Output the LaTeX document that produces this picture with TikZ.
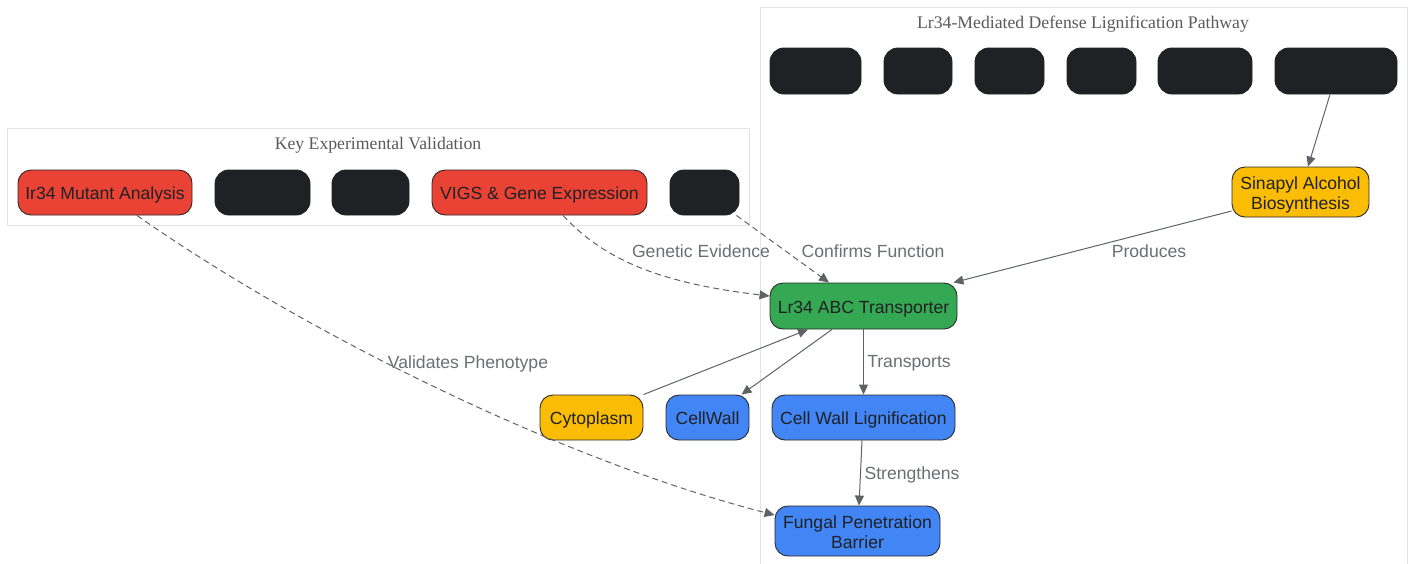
\documentclass[tikz,border=0pt]{standalone}
\usepackage{fontspec}
\setmainfont{Liberation Sans}
\newfontfamily\titlefont{Liberation Serif}
\usetikzlibrary{arrows.meta,calc}
\definecolor{cred}{HTML}{EA4335}
\definecolor{cgreen}{HTML}{34A853}
\definecolor{cblue}{HTML}{4285F4}
\definecolor{cyellow}{HTML}{FBBC04}
\definecolor{cblack}{HTML}{202124}
\definecolor{cborder}{HTML}{2A2A2A}
\definecolor{cedge}{HTML}{5F6368}
\definecolor{clabel}{HTML}{6B6E73}
\definecolor{ctitle}{HTML}{5A5A5A}
\definecolor{cclus}{HTML}{E3E3E3}
\tikzset{
  basebox/.style={draw=cborder, line width=0.9pt, rounded corners=13pt, inner sep=0pt,
    align=center, text=cblack, font=\fontsize{17.6}{20}\selectfont},
  box/.style={basebox, text height=16pt, text depth=2pt},
  mbox/.style={basebox, text height=36pt, text depth=2pt},
  blk/.style={basebox, fill=cblack, draw=cblack, rounded corners=14pt, minimum height=46pt},
  conn/.style={draw=cedge, line width=1pt, -{Triangle[length=10pt,width=9pt]}},
  dconn/.style={conn, dash pattern=on 6pt off 4pt},
  elabel/.style={text=clabel, font=\fontsize{17.6}{20}\selectfont, inner sep=0pt},
  cluster/.style={draw=cclus, fill=white, line width=0.8pt},
  ctitle/.style={text=ctitle, font=\titlefont\fontsize{17.7}{21}\selectfont, inner sep=0pt}
}
\begin{document}
\begin{tikzpicture}[x=1pt,y=-1pt]
\useasboundingbox (0,0) rectangle (1410,563);
% clusters
\draw[cluster] (760,7) rectangle (1407,570);
\draw[cluster] (7,128) rectangle (749,225);
\node[ctitle] (t1) at (1083,24) {Lr34-Mediated Defense Lignification Pathway};
\node[ctitle] (t2) at (378,145) {Key Experimental Validation};
% top row
\node[blk, minimum width=91pt] (p1) at (815.5,71) {};
\node[blk, minimum width=68pt] (p2) at (918,71) {};
\node[blk, minimum width=69pt] (p3) at (1009.5,71) {};
\node[blk, minimum width=69pt] (p4) at (1101.5,71) {};
\node[blk, minimum width=94pt] (p5) at (1205,71) {};
\node[blk, minimum width=122pt] (p6) at (1336,71) {};
% left row
\node[box, fill=cred, minimum width=174pt, minimum height=45pt] (mut) at (105,192.5) {Ir34 Mutant Analysis};
\node[blk, minimum width=95pt, minimum height=45pt] (k1) at (262.5,192.5) {};
\node[blk, minimum width=77pt, minimum height=45pt] (k2) at (370.5,192.5) {};
\node[box, fill=cred, minimum width=215pt, minimum height=45pt] (vigs) at (539.5,192.5) {VIGS \& Gene Expression};
\node[blk, minimum width=69pt, minimum height=45pt] (k3) at (704.5,192.5) {};
% others
\node[mbox, fill=cyellow, minimum width=137pt, minimum height=50pt] (sin) at (1300.5,192) {Sinapyl Alcohol\\Biosynthesis};
\node[box, fill=cgreen, minimum width=187pt, minimum height=46pt] (abc) at (863.5,306) {Lr34 ABC Transporter};
\node[box, fill=cyellow, minimum width=103pt, minimum height=45pt] (cyt) at (591.5,417.5) {Cytoplasm};
\node[box, fill=cblue, minimum width=83pt, minimum height=45pt] (cw) at (707.5,417.5) {CellWall};
\node[box, fill=cblue, minimum width=183pt, minimum height=45pt] (lig) at (863.5,417.5) {Cell Wall Lignification};
\node[mbox, fill=cblue, minimum width=165pt, minimum height=50pt] (fun) at (857.5,531) {Fungal Penetration\\Barrier};
% edges
\draw[conn] ([xshift=-6pt]p6.south) -- ([xshift=7.5pt]sin.north);
\draw[conn] ([yshift=-19pt]sin.west) -- ([xshift=-4pt]abc.north east);
\draw[dconn] ([xshift=32pt]mut.south) .. controls (300,330) and (560,460) .. ([yshift=16pt]fun.west);
\draw[dconn] ([xshift=23.5pt]vigs.south) .. controls (600,255) and (650,282) .. ([yshift=10pt]abc.west);
\draw[dconn] ([xshift=-3pt]k3.south east) -- ([xshift=-34.5pt]abc.north);
\draw[conn] (cyt.north east) -- ([xshift=-55.5pt]abc.south);
\draw[conn] ([xshift=-31.5pt]abc.south) -- ([xshift=-8pt]cw.north east);
\draw[conn] (abc.south) -- (lig.north);
\draw[conn] ([xshift=-1.5pt]lig.south) -- ([xshift=1.5pt]fun.north);
% labels
\node[elabel] (l1) at (1149,251.5) {Produces};
\node[elabel] (l2) at (468,363.5) {Validates Phenotype};
\node[elabel] (l3) at (701,251.5) {Genetic Evidence};
\node[elabel] (l4) at (873,251.5) {Confirms Function};
\node[elabel] (l5) at (909,363.5) {Transports};
\node[elabel] (l6) at (912,474.5) {Strengthens};
\end{tikzpicture}
\end{document}
